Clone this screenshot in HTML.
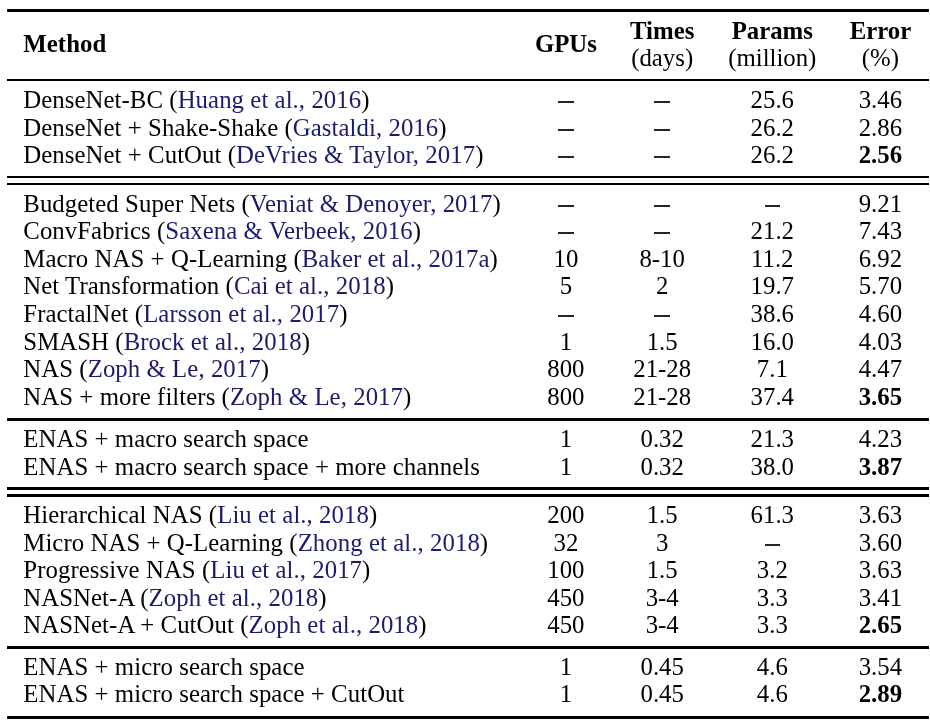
<!DOCTYPE html>
<html><head><meta charset="utf-8"><style>
html,body{margin:0;padding:0;background:#fff;width:930px;height:720px;overflow:hidden}
body{position:relative;will-change:transform;font-family:"Liberation Serif",serif;font-size:24.8px;color:#000}
.t{position:absolute;line-height:24.8px;white-space:nowrap;letter-spacing:0.06px}
.c{position:absolute;line-height:24.8px;white-space:nowrap;width:200px;text-align:center}
.r{position:absolute;left:7px;width:922px;background:#000}
.d{position:absolute;width:15.5px;height:1.5px;background:#262626}
.b{font-weight:bold}
.k{color:#1a1d6c}
</style></head><body>

<div class="r" style="top:9px;height:3px"></div>
<div class="r" style="top:79px;height:2px"></div>
<div class="r" style="top:176px;height:2px"></div>
<div class="r" style="top:183px;height:2px"></div>
<div class="r" style="top:418px;height:3px"></div>
<div class="r" style="top:487px;height:3px"></div>
<div class="r" style="top:494px;height:3px"></div>
<div class="r" style="top:646px;height:3px"></div>
<div class="r" style="top:716px;height:3px"></div>
<div class="t b" style="left:23.3px;top:32px">Method</div>
<div class="c b" style="left:465.90px;top:32px">GPUs</div>
<div class="c b" style="left:562.20px;top:19px">Times</div>
<div class="c" style="left:562.20px;top:46px">(days)</div>
<div class="c b" style="left:672.30px;top:19px">Params</div>
<div class="c" style="left:672.30px;top:46px">(million)</div>
<div class="c b" style="left:780.40px;top:19px">Error</div>
<div class="c" style="left:780.40px;top:46px">(%)</div>
<div class="t" style="left:23.3px;top:88px">DenseNet-BC (<span class="k">Huang et al., 2016</span>)</div>
<div class="d" style="left:558.15px;top:101.00px"></div>
<div class="d" style="left:654.45px;top:101.00px"></div>
<div class="c" style="left:672.30px;top:88px">25.6</div>
<div class="c" style="left:780.40px;top:88px">3.46</div>
<div class="t" style="left:23.3px;top:116px">DenseNet + Shake-Shake (<span class="k">Gastaldi, 2016</span>)</div>
<div class="d" style="left:558.15px;top:129.00px"></div>
<div class="d" style="left:654.45px;top:129.00px"></div>
<div class="c" style="left:672.30px;top:116px">26.2</div>
<div class="c" style="left:780.40px;top:116px">2.86</div>
<div class="t" style="left:23.3px;top:143px">DenseNet + CutOut (<span class="k">DeVries &amp; Taylor, 2017</span>)</div>
<div class="d" style="left:558.15px;top:156.00px"></div>
<div class="d" style="left:654.45px;top:156.00px"></div>
<div class="c" style="left:672.30px;top:143px">26.2</div>
<div class="c b" style="left:780.40px;top:143px">2.56</div>
<div class="t" style="left:23.3px;top:192px">Budgeted Super Nets (<span class="k">Veniat &amp; Denoyer, 2017</span>)</div>
<div class="d" style="left:558.15px;top:205.00px"></div>
<div class="d" style="left:654.45px;top:205.00px"></div>
<div class="d" style="left:764.55px;top:205.00px"></div>
<div class="c" style="left:780.40px;top:192px">9.21</div>
<div class="t" style="left:23.3px;top:219px">ConvFabrics (<span class="k">Saxena &amp; Verbeek, 2016</span>)</div>
<div class="d" style="left:558.15px;top:232.00px"></div>
<div class="d" style="left:654.45px;top:232.00px"></div>
<div class="c" style="left:672.30px;top:219px">21.2</div>
<div class="c" style="left:780.40px;top:219px">7.43</div>
<div class="t" style="left:23.3px;top:247px">Macro NAS + Q-Learning (<span class="k">Baker et al., 2017a</span>)</div>
<div class="c" style="left:465.90px;top:247px">10</div>
<div class="c" style="left:562.20px;top:247px">8-10</div>
<div class="c" style="left:672.30px;top:247px">11.2</div>
<div class="c" style="left:780.40px;top:247px">6.92</div>
<div class="t" style="left:23.3px;top:274px">Net Transformation (<span class="k">Cai et al., 2018</span>)</div>
<div class="c" style="left:465.90px;top:274px">5</div>
<div class="c" style="left:562.20px;top:274px">2</div>
<div class="c" style="left:672.30px;top:274px">19.7</div>
<div class="c" style="left:780.40px;top:274px">5.70</div>
<div class="t" style="left:23.3px;top:302px">FractalNet (<span class="k">Larsson et al., 2017</span>)</div>
<div class="d" style="left:558.15px;top:315.00px"></div>
<div class="d" style="left:654.45px;top:315.00px"></div>
<div class="c" style="left:672.30px;top:302px">38.6</div>
<div class="c" style="left:780.40px;top:302px">4.60</div>
<div class="t" style="left:23.3px;top:330px">SMASH (<span class="k">Brock et al., 2018</span>)</div>
<div class="c" style="left:465.90px;top:330px">1</div>
<div class="c" style="left:562.20px;top:330px">1.5</div>
<div class="c" style="left:672.30px;top:330px">16.0</div>
<div class="c" style="left:780.40px;top:330px">4.03</div>
<div class="t" style="left:23.3px;top:357px">NAS (<span class="k">Zoph &amp; Le, 2017</span>)</div>
<div class="c" style="left:465.90px;top:357px">800</div>
<div class="c" style="left:562.20px;top:357px">21-28</div>
<div class="c" style="left:672.30px;top:357px">7.1</div>
<div class="c" style="left:780.40px;top:357px">4.47</div>
<div class="t" style="left:23.3px;top:385px">NAS + more filters (<span class="k">Zoph &amp; Le, 2017</span>)</div>
<div class="c" style="left:465.90px;top:385px">800</div>
<div class="c" style="left:562.20px;top:385px">21-28</div>
<div class="c" style="left:672.30px;top:385px">37.4</div>
<div class="c b" style="left:780.40px;top:385px">3.65</div>
<div class="t" style="left:23.3px;top:427px">ENAS + macro search space</div>
<div class="c" style="left:465.90px;top:427px">1</div>
<div class="c" style="left:562.20px;top:427px">0.32</div>
<div class="c" style="left:672.30px;top:427px">21.3</div>
<div class="c" style="left:780.40px;top:427px">4.23</div>
<div class="t" style="left:23.3px;top:455px">ENAS + macro search space + more channels</div>
<div class="c" style="left:465.90px;top:455px">1</div>
<div class="c" style="left:562.20px;top:455px">0.32</div>
<div class="c" style="left:672.30px;top:455px">38.0</div>
<div class="c b" style="left:780.40px;top:455px">3.87</div>
<div class="t" style="left:23.3px;top:503px">Hierarchical NAS (<span class="k">Liu et al., 2018</span>)</div>
<div class="c" style="left:465.90px;top:503px">200</div>
<div class="c" style="left:562.20px;top:503px">1.5</div>
<div class="c" style="left:672.30px;top:503px">61.3</div>
<div class="c" style="left:780.40px;top:503px">3.63</div>
<div class="t" style="left:23.3px;top:531px">Micro NAS + Q-Learning (<span class="k">Zhong et al., 2018</span>)</div>
<div class="c" style="left:465.90px;top:531px">32</div>
<div class="c" style="left:562.20px;top:531px">3</div>
<div class="d" style="left:764.55px;top:544.00px"></div>
<div class="c" style="left:780.40px;top:531px">3.60</div>
<div class="t" style="left:23.3px;top:558px">Progressive NAS (<span class="k">Liu et al., 2017</span>)</div>
<div class="c" style="left:465.90px;top:558px">100</div>
<div class="c" style="left:562.20px;top:558px">1.5</div>
<div class="c" style="left:672.30px;top:558px">3.2</div>
<div class="c" style="left:780.40px;top:558px">3.63</div>
<div class="t" style="left:23.3px;top:586px">NASNet-A (<span class="k">Zoph et al., 2018</span>)</div>
<div class="c" style="left:465.90px;top:586px">450</div>
<div class="c" style="left:562.20px;top:586px">3-4</div>
<div class="c" style="left:672.30px;top:586px">3.3</div>
<div class="c" style="left:780.40px;top:586px">3.41</div>
<div class="t" style="left:23.3px;top:613px">NASNet-A + CutOut (<span class="k">Zoph et al., 2018</span>)</div>
<div class="c" style="left:465.90px;top:613px">450</div>
<div class="c" style="left:562.20px;top:613px">3-4</div>
<div class="c" style="left:672.30px;top:613px">3.3</div>
<div class="c b" style="left:780.40px;top:613px">2.65</div>
<div class="t" style="left:23.3px;top:655px">ENAS + micro search space</div>
<div class="c" style="left:465.90px;top:655px">1</div>
<div class="c" style="left:562.20px;top:655px">0.45</div>
<div class="c" style="left:672.30px;top:655px">4.6</div>
<div class="c" style="left:780.40px;top:655px">3.54</div>
<div class="t" style="left:23.3px;top:682px">ENAS + micro search space + CutOut</div>
<div class="c" style="left:465.90px;top:682px">1</div>
<div class="c" style="left:562.20px;top:682px">0.45</div>
<div class="c" style="left:672.30px;top:682px">4.6</div>
<div class="c b" style="left:780.40px;top:682px">2.89</div>
</body></html>
